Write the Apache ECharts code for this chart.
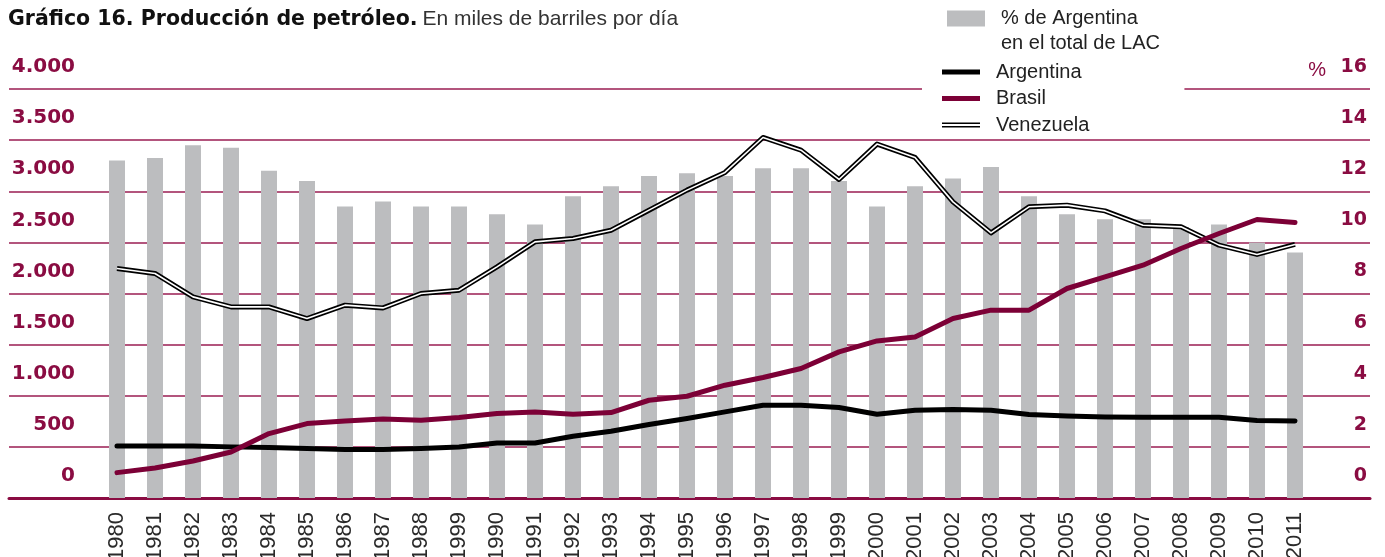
<!DOCTYPE html>
<html>
<head>
<meta charset="utf-8">
<script src="https://cdn.jsdelivr.net/npm/echarts@6/dist/echarts.min.js"></script>
<style>
  html, body { margin: 0; padding: 0; background: #fff; }
  #chart { width: 1385px; height: 557px; }
</style>
</head>
<body>
<div id="chart"></div>
<script>
// años (la etiqueta de 1989 aparece como "1999" en el original)
const years = [
  '1980', '1981', '1982', '1983', '1984', '1985', '1986', '1987', '1988', '1999',
  '1990', '1991', '1992', '1993', '1994', '1995', '1996', '1997', '1998', '1999',
  '2000', '2001', '2002', '2003', '2004', '2005', '2006', '2007', '2008', '2009',
  '2010', '2011'
];

// % de Argentina en el total de LAC (eje derecho)
const shareArgentina = [
  13.2, 13.3, 13.8, 13.7, 12.8, 12.4, 11.4, 11.6, 11.4, 11.4,
  11.1, 10.7, 11.8, 12.2, 12.6, 12.7, 12.6, 12.9, 12.9, 12.4,
  11.4, 12.2, 12.5, 12.95, 11.8, 11.1, 10.9, 10.9, 10.6, 10.7,
  10.0, 9.6
];

// miles de barriles por día (eje izquierdo)
const argentina = [
  509, 509, 509, 500, 493, 483, 474, 474, 483, 499,
  538, 538, 604, 653, 718, 777, 842, 907, 907, 885,
  819, 858, 865, 858, 816, 802, 792, 790, 790, 790,
  757, 753
];
const brasil = [
  248, 294, 362, 450, 630, 728, 753, 773, 760, 787,
  826, 842, 819, 835, 956, 995, 1103, 1178, 1266, 1429,
  1536, 1575, 1755, 1837, 1837, 2049, 2163, 2277, 2440, 2587,
  2724, 2695
];
const venezuela = [
  2245, 2196, 1967, 1869, 1869, 1755, 1886, 1859, 2000, 2032,
  2260, 2505, 2538, 2619, 2815, 3011, 3184, 3526, 3402, 3115,
  3461, 3331, 2896, 2593, 2848, 2864, 2808, 2668, 2652, 2473,
  2382, 2480
];

const barName = '% de Argentina\nen el total de LAC';
const maroon = '#8a0c42';
const gridColor = '#9a1d52';
const brasilColor = '#7c0036';
const barColor = '#bcbdbf';

const chart = echarts.init(document.getElementById('chart'));

const fmtMiles = (v) => String(v).replace(/\B(?=(\d{3})+(?!\d))/g, '.');

const option = {
  animation: false,
  title: {
    left: 8,
    top: 9,
    padding: 0,
    text: '{b|Gráfico 16. Producción de petróleo.} {n|En miles de barriles por día}',
    textStyle: {
      rich: {
        b: { fontFamily: 'DejaVu Sans', fontWeight: 'bold', fontSize: 20.5, color: '#111' },
        n: { fontFamily: 'Liberation Sans', fontWeight: 'normal', fontSize: 21, color: '#333' }
      }
    }
  },
  legend: [
    {
      left: 942,
      top: -24,
      orient: 'vertical',
      selectedMode: false,
      itemWidth: 38,
      itemHeight: 16,
      data: [{ name: barName, icon: 'rect' }],
      // línea vacía delante para que la primera línea quede a la altura del icono
      formatter: (name) => '\n' + name,
      textStyle: {
        fontFamily: 'Liberation Sans', fontSize: 20, lineHeight: 25, color: '#222',
        padding: [0, 0, 0, 11]
      }
    },
    {
      left: 922,
      top: 60,
      orient: 'vertical',
      selectedMode: false,
      padding: [2, 95, 2, 20],
      backgroundColor: '#fff',
      itemGap: 6.5,
      itemWidth: 38,
      itemHeight: 16,
      data: [
        { name: 'Argentina', icon: 'path://M0,0H38V5H0Z' },
        { name: 'Brasil', icon: 'path://M0,0H38V5H0Z' },
        { name: 'Venezuela', icon: 'path://M0,0H38V1.6H0Z M0,3.6H38V5.2H0Z' }
      ],
      textStyle: {
        fontFamily: 'Liberation Sans', fontSize: 20, lineHeight: 20, color: '#222',
        padding: [0, 0, 0, 11]
      }
    }
  ],
  grid: [
    { left: 9, right: 15, top: 89, bottom: 59, outerBoundsMode: 'none' },
    { left: 98, right: 71, top: 89, bottom: 59, outerBoundsMode: 'none' }
  ],
  xAxis: [
    {
      gridIndex: 0, type: 'value', min: 0, max: 1,
      axisLine: { show: true, lineStyle: { color: maroon, width: 3 } },
      axisTick: { show: false }, axisLabel: { show: false }, splitLine: { show: false }
    },
    {
      gridIndex: 1, type: 'category', data: years, boundaryGap: true,
      axisLine: { show: false }, axisTick: { show: false },
      axisLabel: {
        interval: 0, rotate: 90, margin: 14,
        fontFamily: 'Liberation Sans', fontSize: 22, color: '#2a2a2a'
      }
    }
  ],
  yAxis: [
    {
      gridIndex: 0, type: 'value', min: 0, max: 4000, interval: 500, position: 'left',
      axisLine: { show: false }, axisTick: { show: false },
      splitLine: { lineStyle: { color: gridColor, width: 1.5 } },
      axisLabel: {
        inside: true, align: 'right', margin: 66,
        verticalAlign: 'bottom', lineHeight: 44,
        fontFamily: 'DejaVu Sans', fontWeight: 'bold', fontSize: 20, color: maroon,
        formatter: fmtMiles
      }
    },
    {
      gridIndex: 0, type: 'value', min: 0, max: 16, interval: 2, position: 'right',
      axisLine: { show: false }, axisTick: { show: false }, splitLine: { show: false },
      name: '%', nameLocation: 'end', nameGap: 9,
      nameTextStyle: {
        fontFamily: 'Liberation Sans', fontSize: 20, color: maroon,
        align: 'right', verticalAlign: 'bottom', padding: [0, 44, 0, 0]
      },
      axisLabel: {
        inside: true, margin: 3,
        verticalAlign: 'bottom', lineHeight: 44,
        fontFamily: 'DejaVu Sans', fontWeight: 'bold', fontSize: 19, color: maroon
      }
    },
    { gridIndex: 1, type: 'value', min: 0, max: 4000, show: false },
    { gridIndex: 1, type: 'value', min: 0, max: 16, show: false }
  ],
  series: [
    {
      name: barName, type: 'bar', xAxisIndex: 1, yAxisIndex: 3,
      barWidth: 16, itemStyle: { color: barColor }, data: shareArgentina
    },
    {
      name: 'Venezuela', type: 'line', xAxisIndex: 1, yAxisIndex: 2,
      symbol: 'none', itemStyle: { color: '#000' },
      lineStyle: { color: '#000', width: 5, join: 'round' }, data: venezuela
    },
    {
      name: 'Venezuela (interior)', type: 'line', xAxisIndex: 1, yAxisIndex: 2,
      symbol: 'none', itemStyle: { color: '#fff' },
      lineStyle: { color: '#fff', width: 1.6, join: 'round' }, data: venezuela
    },
    {
      name: 'Argentina', type: 'line', xAxisIndex: 1, yAxisIndex: 2,
      symbol: 'none', itemStyle: { color: '#000' },
      lineStyle: { color: '#000', width: 5, join: 'round', cap: 'round' }, data: argentina
    },
    {
      name: 'Brasil', type: 'line', xAxisIndex: 1, yAxisIndex: 2,
      symbol: 'none', itemStyle: { color: brasilColor },
      lineStyle: { color: brasilColor, width: 5, join: 'round', cap: 'round' }, data: brasil
    }
  ]
};

chart.setOption(option);
</script>
</body>
</html>
